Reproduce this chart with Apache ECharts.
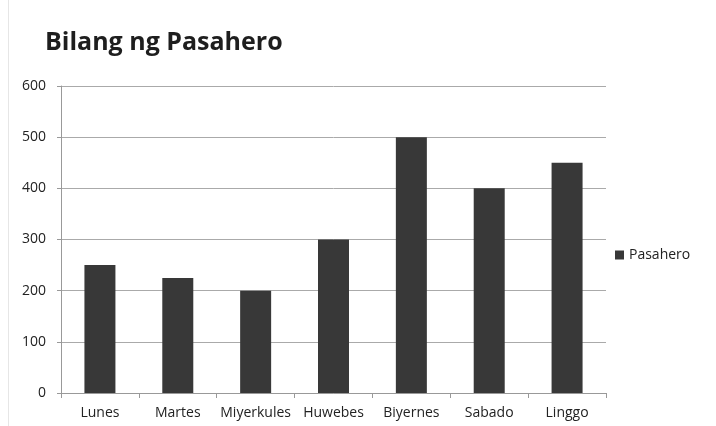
<!DOCTYPE html>
<html><head><meta charset="utf-8">
<script src="https://cdn.jsdelivr.net/npm/echarts@6/dist/echarts.min.js"></script>
<style>html,body{margin:0;padding:0;background:#fff}#c{width:716px;height:426px}</style>
</head><body><div id="c"></div>
<script>
const categories = ['Lunes','Martes','Miyerkules','Huwebes','Biyernes','Sabado','Linggo'];
const pasahero = [250,225,200,300,500,400,450];
const seriesName = 'Pasahero';
const titleText = 'Bilang ng Pasahero';

const chart = echarts.init(document.getElementById('c'));
chart.setOption({
  animation:false,
  backgroundColor:'#fff',
  title:{text:titleText,left:40,top:25,textStyle:{fontFamily:'Open Sans',fontWeight:'bold',fontSize:25,color:'#1e1e1e'}},
  legend:{data:[seriesName],orient:'vertical',left:610,top:243,icon:'rect',itemWidth:9,itemHeight:9,itemGap:4,
    textStyle:{fontFamily:'Open Sans',fontSize:14,color:'#222'}},
  grid:{left:61,right:110,top:86,bottom:33},
  xAxis:{type:'category',data:categories,
    axisLine:{lineStyle:{color:'#999',width:1}},
    axisTick:{show:true,alignWithLabel:false,length:5,lineStyle:{color:'#999'}},
    axisLabel:{interval:0,fontFamily:'Open Sans',fontSize:14,color:'#222',margin:13}},
  yAxis:{type:'value',min:0,max:600,interval:100,
    axisLine:{show:true,lineStyle:{color:'#999'}},
    axisTick:{show:true,length:4,lineStyle:{color:'#999'}},
    axisLabel:{fontFamily:'Open Sans',fontSize:14,color:'#222',margin:15},
    splitLine:{lineStyle:{color:'#aaa'}}},
  series:[{name:seriesName,type:'bar',data:pasahero,barWidth:31,itemStyle:{color:'#383838'}}],
  graphic:[{type:'line',shape:{x1:8.5,y1:0,x2:8.5,y2:426},style:{stroke:'#e6e6e6',lineWidth:1}}]
});
</script></body></html>
